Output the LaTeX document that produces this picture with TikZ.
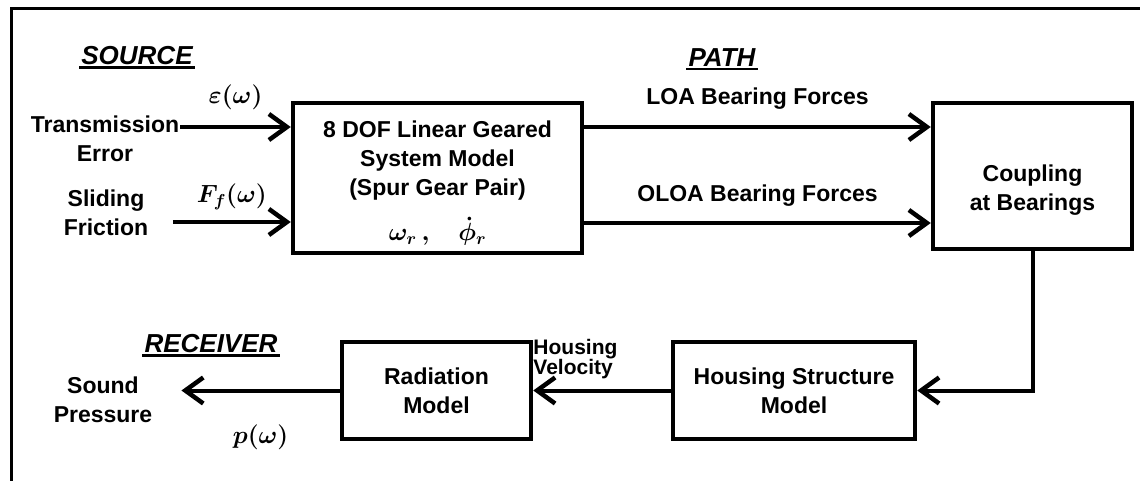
\documentclass[tikz,border=0pt]{standalone}
\usepackage{fontspec}
\setmainfont{Liberation Sans}
\usetikzlibrary{arrows.meta}

\begin{document}
\begin{tikzpicture}[x=1pt, y=-1pt,
  txt/.style={font=\bfseries\fontsize{23}{29}\selectfont, align=center, inner sep=1pt},
  hdr/.style={font=\bfseries\itshape\fontsize{26}{30}\selectfont, inner sep=2pt,
    append after command={(\tikzlastnode.south west) edge[draw, line width=2.2pt] (\tikzlastnode.south east)}},
  mth/.style={font=\boldmath\fontsize{24}{28}\selectfont, inner sep=1pt},
  blk/.style={draw, line width=4.5pt, align=center, font=\bfseries\fontsize{23}{29}\selectfont},
  arr/.style={line width=4pt, -{Straight Barb[length=18pt,width=26pt,line width=4.5pt]}}]

\useasboundingbox (0,0) rectangle (1140,481);

% frame (cut at the right and bottom)
\draw[line width=3pt] (11,500) -- (11,9) -- (1160,9);

% headings
\node[hdr] (srch) at (137,56) {SOURCE};
\node[hdr] (pathh) at (722,58) {PATH};
\node[hdr] (rcvh) at (211,344) {RECEIVER};

% inputs
\node[txt] (te) at (105,139) {Transmission\\Error};
\node[txt] (sf) at (106,213) {Sliding\\Friction};

% blocks
\node[blk, minimum width=289pt, minimum height=150pt] (gear) at (437.5,178) {};
\node[txt] (geartxt) at ([yshift=17pt]gear.center) {8 DOF Linear Geared\\System Model\\(Spur Gear Pair)};
\node[mth] (gearvar) at ([yshift=-53pt]gear.center) {$\omega_r\,,\quad\dot{\phi}_r$};
\node[blk, minimum width=199pt, minimum height=146pt] (cpl) at (1032.5,176) {};
\node[txt] (cpltxt) at ([yshift=-14pt]cpl.center) {Coupling\\at Bearings};
\node[blk, minimum width=242pt, minimum height=97pt] (hsg) at (794,390.5) {Housing Structure\\Model};
\node[blk, minimum width=189pt, minimum height=97pt] (rad) at (436.5,390.5) {Radiation\\Model};

% output
\node[txt] (snd) at (103,400) {Sound\\Pressure};
\node[txt, anchor=north west, align=left, font=\bfseries\fontsize{21}{19}\selectfont] (hvl)
  at ([xshift=-1pt,yshift=2pt]rad.north east) {Housing\\Velocity};

% source -> path
\draw[arr] ([yshift=51pt]gear.west -| te.east) -- ([yshift=51pt]gear.west)
  node[mth, midway, yshift=30pt] (eps) {$\varepsilon(\omega)$};
\draw[arr] ([xshift=-118pt,yshift=-44pt]gear.west) -- ([yshift=-44pt]gear.west)
  node[mth, midway, yshift=25pt] (ff) {$F_f(\omega)$};
\draw[arr] ([yshift=51pt]gear.east) -- ([yshift=51pt]gear.east -| cpl.west)
  node[txt, midway, yshift=28pt] (loa) {LOA Bearing Forces};
\draw[arr] ([yshift=-45pt]gear.east) -- ([yshift=-45pt]gear.east -| cpl.west)
  node[txt, midway, yshift=27pt] (oloa) {OLOA Bearing Forces};

% path -> receiver
\draw[arr] (cpl.south) |- (hsg.east);
\draw[arr] (hsg.west) -- (rad.east);
\draw[arr] (rad.west) -- ([xshift=28pt]snd.east |- rad.west)
  node[mth, midway, yshift=-47pt] (pw) {$p(\omega)$};

\end{tikzpicture}
\end{document}
